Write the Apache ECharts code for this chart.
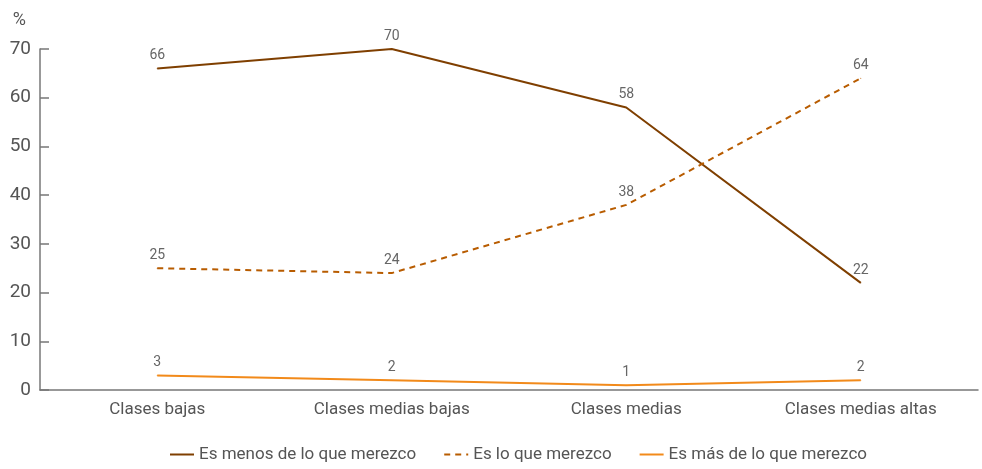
<!DOCTYPE html>
<html>
<head>
<meta charset="utf-8">
<script src="https://cdn.jsdelivr.net/npm/echarts@6/dist/echarts.min.js"></script>
<style>
  html, body { margin: 0; padding: 0; background: #fff; }
  #chart { width: 982px; height: 469px; }
</style>
</head>
<body>
<div id="chart"></div>
<script>
const categories = ['Clases bajas', 'Clases medias bajas', 'Clases medias', 'Clases medias altas'];
const seriesNames = ['Es menos de lo que merezco', 'Es lo que merezco', 'Es más de lo que merezco'];
const menosValues = [66, 70, 58, 22];
const igualValues = [25, 24, 38, 64];
const masValues = [3, 2, 1, 2];
const yTicks = [0, 10, 20, 30, 40, 50, 60, 70];

const FONT = 'Roboto, "Liberation Sans", sans-serif';
const TEXT = '#555';

function lineSeries(name, data, color, type) {
  return {
    name: name,
    type: 'line',
    data: data,
    symbol: 'circle',
    symbolSize: 1,
    showSymbol: true,
    lineStyle: { color: color, width: 2, type: type },
    itemStyle: { color: color },
    label: {
      show: true,
      position: 'top',
      distance: 5,
      color: '#666',
      fontFamily: FONT,
      fontSize: 14
    },
    emphasis: { disabled: true }
  };
}

const chart = echarts.init(document.getElementById('chart'));
chart.setOption({
  animation: false,
  textStyle: { fontFamily: FONT },
  grid: { left: 40, right: 4, top: 49, bottom: 79 },
  xAxis: {
    type: 'category',
    data: categories,
    boundaryGap: true,
    axisLine: { lineStyle: { color: '#777', width: 1.5 } },
    axisTick: { show: false },
    axisLabel: { color: TEXT, fontFamily: FONT, fontSize: 17, margin: 11 }
  },
  yAxis: {
    type: 'value',
    min: yTicks[0],
    max: yTicks[yTicks.length - 1],
    interval: 10,
    name: '%',
    nameLocation: 'end',
    nameGap: 20,
    nameTextStyle: { color: TEXT, fontFamily: FONT, fontSize: 18, align: 'right', padding: [0, 14, 0, 0] },
    axisLine: { show: true, lineStyle: { color: '#777', width: 1.5 } },
    axisTick: { show: true, inside: true, length: 9, lineStyle: { color: '#777', width: 1.5 } },
    axisLabel: { color: TEXT, fontFamily: FONT, fontSize: 19, margin: 9 },
    splitLine: { show: false }
  },
  legend: {
    bottom: 1,
    left: 164,
    itemGap: 27,
    itemWidth: 24,
    itemHeight: 10,
    itemStyle: { opacity: 0 },
    textStyle: { color: TEXT, fontFamily: FONT, fontSize: 17 },
    data: seriesNames.map(function (n) { return { name: n }; })
  },
  series: [
    lineSeries(seriesNames[0], menosValues, '#7f3f00', 'solid'),
    lineSeries(seriesNames[1], igualValues, '#b85c00', [6, 5]),
    lineSeries(seriesNames[2], masValues, '#f28a1a', 'solid')
  ]
});
</script>
</body>
</html>
